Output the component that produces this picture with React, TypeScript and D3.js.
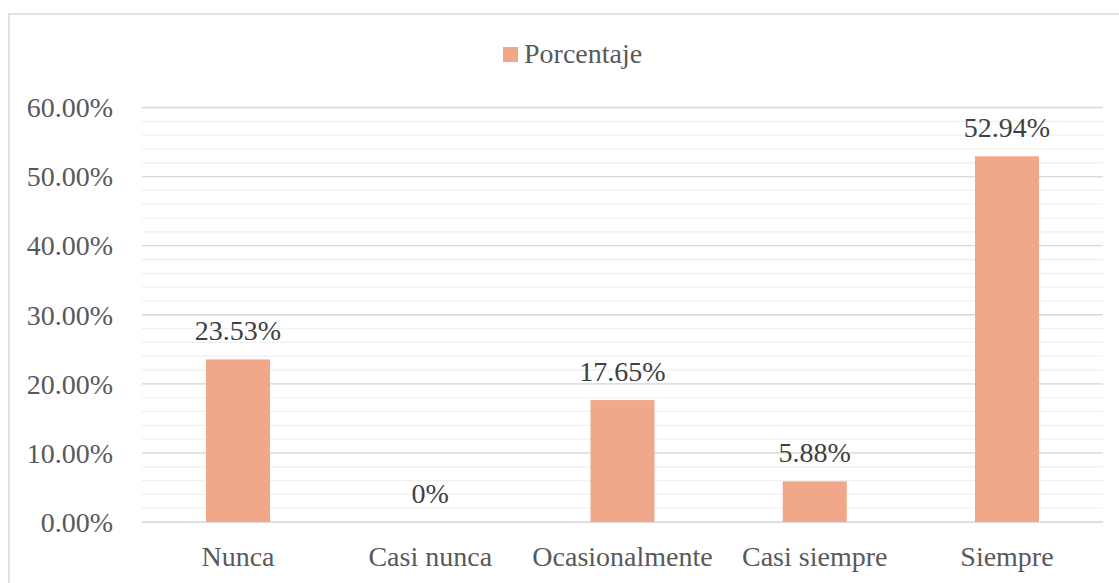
import React from "react";
import * as d3 from "d3";

const categories = ["Nunca", "Casi nunca", "Ocasionalmente", "Casi siempre", "Siempre"];
const values = [0.2353, 0, 0.1765, 0.0588, 0.5294];
const valueLabels = ["23.53%", "0%", "17.65%", "5.88%", "52.94%"];
const majorTicks = [0, 0.1, 0.2, 0.3, 0.4, 0.5, 0.6];
const minorTicks = d3.range(0, 0.6001, 0.02);
const seriesName = "Porcentaje";

const W = 1119;
const H = 583;
const plot = { left: 142, right: 1103, top: 107.5, bottom: 522 };
const font = "Liberation Serif";
const barColor = "#F1A88A";
const ts = (size: number) => ({ fontFamily: font, fontSize: size });

export default function App() {
  const x = d3.scaleBand<string>().domain(categories).range([plot.left, plot.right]).paddingInner(0.667).paddingOuter(0.333);
  const y = d3.scaleLinear().domain([0, 0.6]).range([plot.bottom, plot.top]);
  const fmt = d3.format(".2%");
  return (
    <svg width={W} height={H} style={{ position: "absolute", left: 0, top: 0, background: "#fff" }}>
      <rect x={9} y={14} width={1140} height={600} fill="#fff" stroke="#d9d9d9" strokeWidth={1.5} />
      {minorTicks.map((t, i) => (
        <line key={"m" + i} x1={plot.left} x2={plot.right} y1={y(t)} y2={y(t)} stroke="#f0f0f0" strokeWidth={1.3} />
      ))}
      {majorTicks.map((t, i) => (
        <line key={"M" + i} x1={plot.left} x2={plot.right} y1={y(t)} y2={y(t)} stroke="#d9d9d9" strokeWidth={1.3} />
      ))}
      {majorTicks.map((t, i) => (
        <text key={"t" + i} x={113} y={y(t)} dy="0.35em" textAnchor="end" style={ts(28)} fill="#595959">
          {fmt(t)}
        </text>
      ))}
      {categories.map((c, i) => (
        <g key={c}>
          <rect x={x(c)} y={y(values[i])} width={x.bandwidth()} height={y(0) - y(values[i])} fill={barColor} />
          <text x={(x(c) as number) + x.bandwidth() / 2} y={y(values[i]) - 19} textAnchor="middle" style={ts(28)} fill="#404040">
            {valueLabels[i]}
          </text>
          <text x={(x(c) as number) + x.bandwidth() / 2} y={566} textAnchor="middle" style={ts(28)} fill="#595959">
            {c}
          </text>
        </g>
      ))}
      <rect x={503} y={47} width={15} height={15} fill={barColor} />
      <text x={524} y={63} style={ts(28)} fill="#595959">{seriesName}</text>
    </svg>
  );
}
